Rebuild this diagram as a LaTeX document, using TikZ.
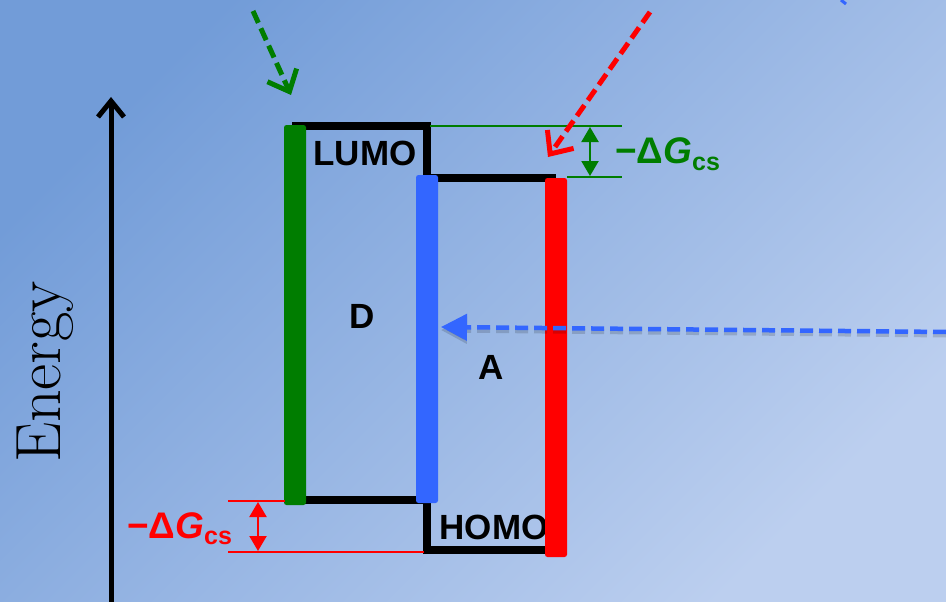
\documentclass[tikz,border=0pt]{standalone}
\usepackage{fontspec}
\newfontfamily\arialfont{Liberation Sans}
\usetikzlibrary{arrows.meta,calc}
\definecolor{bgtop}{RGB}{114,156,216}
\definecolor{bgbot}{RGB}{188,207,239}
\definecolor{dongreen}{RGB}{0,125,0}
\definecolor{accblue}{RGB}{51,102,255}
\definecolor{accred}{RGB}{255,0,0}
\newcommand{\dGcs}{−Δ\textit{G}\raisebox{-0.32ex}{\fontsize{25}{25}\selectfont cs}}
\tikzset{
  orbital/.style={line width=7.5pt, line cap=rect},
  bandbar/.style={rounded corners=2.5pt},
  guide/.style={line width=1.6pt},
  gap/.style={line width=2.2pt, {Triangle[length=15pt,width=17pt]}-{Triangle[length=15pt,width=17pt]}},
  excite/.style={line width=5pt, dash pattern=on 13pt off 6pt, -{Straight Barb[length=18pt,width=32pt]}},
  levellabel/.style={font=\arialfont\bfseries\fontsize{35}{35}\selectfont, inner sep=0pt},
  gaplabel/.style={font=\arialfont\bfseries\fontsize{37}{37}\selectfont, inner sep=0pt, anchor=base west}
}

\begin{document}
\begin{tikzpicture}[x=1pt, y=-1pt]
    \useasboundingbox (0,0) rectangle (946,602);
    \shade[top color=bgtop, bottom color=bgbot, shading angle=45] (0,0) rectangle (946,602);

    % energy axis
    \coordinate (axisbot) at (111,606);
    \coordinate (axistop) at (111,97);
    \draw[line width=5pt, -{Straight Barb[length=16pt,width=26pt]}] (axisbot) -- (axistop);
    \node (energy) at (60,372) [rotate=90, anchor=base, inner sep=0pt, font=\fontsize{64}{64}\selectfont] {Energy};

    % levels of D and A
    \draw[orbital] (296,126) -- (427,126) -- (427,178) -- (552,178);
    \draw[orbital] (300,500) -- (422,500);
    \draw[orbital] (427,502) -- (427,550) -- (550,550);

    \node (lumo) at (365,153) [levellabel] {LUMO};
    \node (homo) at (494,527) [levellabel] {HOMO};
    \node (donor) at (362,316) [levellabel] {D};
    \node (acceptor) at (491,367) [levellabel] {A};

    \fill[dongreen, bandbar] (284,125) rectangle (306,505);
    \fill[accblue, bandbar] (416,175) rectangle (438,503);
    \fill[accred, bandbar] (545,178) rectangle (567,557);

    % green offset
    \coordinate (gA) at (430,126);
    \coordinate (gB) at (622,126);
    \coordinate (gC) at (567,177);
    \coordinate (gD) at (622,177);
    \draw[guide, dongreen] (gA) -- (gB);
    \draw[guide, dongreen] (gC) -- (gD);
    \draw[gap, dongreen] (590,127) -- (590,176);
    \node (dGgreen) at (615,164) [gaplabel, text=dongreen] {\dGcs};

    % red offset
    \coordinate (rA) at (228,501);
    \coordinate (rB) at (285,501);
    \coordinate (rC) at (228,552);
    \coordinate (rD) at (424,552);
    \draw[guide, accred] (rA) -- (rB);
    \draw[guide, accred] (rC) -- (rD);
    \draw[gap, accred] (258,502) -- (258,551);
    \node (dGred) at (127,538) [gaplabel, text=accred] {\dGcs};

    % incoming excitations
    \coordinate (greenstart) at (253,11);
    \coordinate (greentip) at (291,95);
    \draw[excite, dongreen] (greenstart) -- (greentip);
    \coordinate (redstart) at (650,12);
    \coordinate (redtip) at (548,157);
    \draw[excite, accred] (redstart) -- (redtip);

    \coordinate (bluestart) at (946,332);
    \coordinate (bluetip) at (441,327);
    \draw[black, opacity=0.15, line width=5pt, dash pattern=on 13pt off 6pt, -{Triangle[length=26pt,width=26pt]}] ($(bluestart)+(0,3)$) -- ($(bluetip)+(0,3)$);
    \draw[accblue, line width=4.5pt, dash pattern=on 13pt off 6pt, -{Triangle[length=26pt,width=26pt]}] (bluestart) -- (bluetip);
    \draw[accblue, line width=3pt] (841,0) -- (846,4);
\end{tikzpicture}
\end{document}
